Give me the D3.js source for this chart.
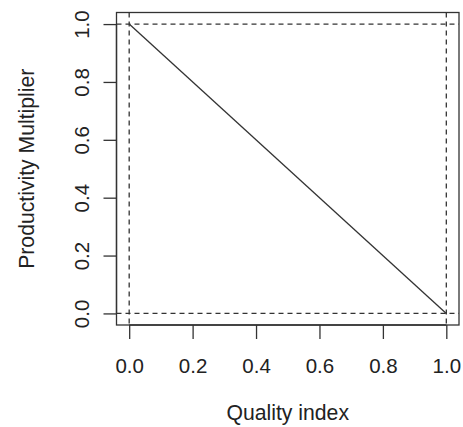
<!DOCTYPE html>
<html><head><meta charset="utf-8">
<script src="https://cdn.jsdelivr.net/npm/d3@7"></script>
<style>body{margin:0;background:#fff;}svg{display:block;}text{font-family:"Liberation Sans",Arial,sans-serif;fill:#222;}</style>
</head><body>
<script>
const lineX = [0, 1];
const lineY = [1, 0];
const refH = [0, 1];
const refV = [0, 1];
const xTicks = [0, 0.2, 0.4, 0.6, 0.8, 1.0];
const yTicks = [0, 0.2, 0.4, 0.6, 0.8, 1.0];
const xLabel = "Quality index";
const yLabel = "Productivity Multiplier";

const W = 463, H = 427;
const L = 116.5, R = 459, T = 12.5, B = 325;
const svg = d3.select("body").append("svg").attr("width", W).attr("height", H);
const x = d3.scaleLinear().domain([-0.04, 1.04]).range([L, R]);
const y = d3.scaleLinear().domain([-0.04, 1.04]).range([B, T]);
const fs = 20.5, fsT = 21.2;
const col = "#333";

// box
svg.append("rect").attr("x", L).attr("y", T).attr("width", R - L).attr("height", B - T)
  .attr("fill", "none").attr("stroke", col).attr("stroke-width", 1.3);

// dashed reference lines
svg.selectAll("line.h").data(refH).enter().append("line")
  .attr("x1", L).attr("x2", R).attr("y1", d => y(d)).attr("y2", d => y(d))
  .attr("stroke", col).attr("stroke-width", 1.3).attr("stroke-dasharray", "5,4");
svg.selectAll("line.v").data(refV).enter().append("line")
  .attr("y1", T).attr("y2", B).attr("x1", d => x(d)).attr("x2", d => x(d))
  .attr("stroke", col).attr("stroke-width", 1.3).attr("stroke-dasharray", "5,4");

// data line
const pts = lineX.map((v, i) => [v, lineY[i]]);
svg.append("path").datum(pts)
  .attr("d", d3.line().x(d => x(d[0])).y(d => y(d[1])))
  .attr("fill", "none").attr("stroke", col).attr("stroke-width", 1.3);

// x axis
const xa = svg.append("g").attr("transform", `translate(0,${B})`)
  .call(d3.axisBottom(x).tickValues(xTicks).tickSize(14).tickSizeOuter(0).tickPadding(12).tickFormat(d3.format(".1f")));
xa.select(".domain").attr("d", `M${x(0)},0H${x(1)}`).attr("stroke", col).attr("stroke-width", 1.3);
xa.selectAll(".tick line").attr("stroke", col).attr("stroke-width", 1.3);
xa.selectAll(".tick text").attr("font-size", fs).attr("fill", "#222").attr("dy", null).attr("y", 48)
  .attr("font-family", '"Liberation Sans",Arial,sans-serif');

// y axis
const ya = svg.append("g").attr("transform", `translate(${L},0)`)
  .call(d3.axisLeft(y).tickValues(yTicks).tickSize(13).tickSizeOuter(0).tickFormat(d3.format(".1f")));
ya.select(".domain").attr("d", `M0,${y(0)}V${y(1)}`).attr("stroke", col).attr("stroke-width", 1.3);
ya.selectAll(".tick line").attr("stroke", col).attr("stroke-width", 1.3);
ya.selectAll(".tick text").attr("font-size", fs).attr("fill", "#222")
  .attr("x", null).attr("dy", null).attr("text-anchor", "middle")
  .attr("font-family", '"Liberation Sans",Arial,sans-serif')
  .attr("transform", `translate(${88.5 - L},0) rotate(-90)`);

// titles
svg.append("text").attr("x", (x(0) + x(1)) / 2).attr("y", 420).attr("text-anchor", "middle")
  .attr("font-size", fsT).text(xLabel);
svg.append("text").attr("transform", `translate(34,${(y(0) + y(1)) / 2}) rotate(-90)`)
  .attr("text-anchor", "middle").attr("font-size", fsT).text(yLabel);
</script>
</body></html>
